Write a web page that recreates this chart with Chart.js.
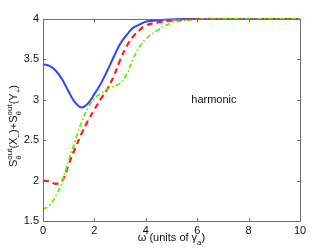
<!DOCTYPE html>
<html>
<head>
<meta charset="utf-8">
<script src="https://cdn.jsdelivr.net/npm/chart.js@4/dist/chart.umd.min.js"></script>
<style>
  html, body { margin: 0; padding: 0; background: #fff; }
  #wrap { width: 332px; height: 250px; }
</style>
</head>
<body>
<div id="wrap"><canvas id="c" width="332" height="250"></canvas></div>
<script>
// omega grid (units of gamma_a)
const omega = [0, 0.25, 0.5, 0.75, 1, 1.25, 1.5, 1.75, 2, 2.25, 2.5, 2.75, 3, 3.25, 3.5, 3.75, 4, 4.5, 5, 5.5, 6, 7, 8, 9, 10]

// solid blue
const blueVals = [3.44, 3.42, 3.36, 3.25, 3.10, 2.965, 2.905, 2.955, 3.07, 3.20, 3.36, 3.53, 3.69, 3.80, 3.89, 3.93, 3.965, 3.985, 3.995, 4, 4, 4, 4, 4, 4]
// dashed red
const redVals = [2.00, 1.99, 1.96, 2.00, 2.20, 2.40, 2.58, 2.74, 2.88, 3.01, 3.13, 3.29, 3.49, 3.66, 3.78, 3.86, 3.92, 3.96, 3.98, 3.99, 4, 4, 4, 4, 4]
// dash-dot green
const greenVals = [1.645, 1.69, 1.81, 1.99, 2.25, 2.49, 2.72, 2.90, 3.01, 3.08, 3.13, 3.17, 3.20, 3.31, 3.50, 3.65, 3.75, 3.87, 3.95, 3.98, 3.995, 4, 4, 4, 4]

const xTicks = [0, 2, 4, 6, 8, 10]
const yTicks = [1.5, 2, 2.5, 3, 3.5, 4]
const annotation = { text: 'harmonic', x: 6.65, y: 3.0 }

const FONT = '"Liberation Sans", Arial, Helvetica, sans-serif'

const pts = vals => omega.map((x, i) => ({ x: x, y: vals[i] }))

// draw text with sub/superscripts; parts: {t} | {sup, sub} | {sub} | {sup}
function richWidth(ctx, parts){
  let w = 0
  parts.forEach(p => {
    if(p.t){ ctx.font = '11px ' + FONT; w += ctx.measureText(p.t).width }
    else {
      ctx.font = '8px ' + FONT
      w += Math.max(p.sup ? ctx.measureText(p.sup).width : 0, p.sub ? ctx.measureText(p.sub).width : 0)
    }
  })
  return w
}
function drawRich(ctx, parts, x, y){
  ctx.textAlign = 'left'
  ctx.textBaseline = 'alphabetic'
  let cx = x
  parts.forEach(p => {
    if(p.t){
      ctx.font = '11px ' + FONT
      ctx.fillText(p.t, cx, y)
      cx += ctx.measureText(p.t).width
    } else {
      ctx.font = '8px ' + FONT
      let w = 0
      if(p.sup){ ctx.fillText(p.sup, cx, y - 5); w = Math.max(w, ctx.measureText(p.sup).width) }
      if(p.sub){ ctx.fillText(p.sub, cx, y + 3.5); w = Math.max(w, ctx.measureText(p.sub).width) }
      cx += w
    }
  })
}

const yLabel = [
  { t: 'S' }, { sup: 'out', sub: 'θ' }, { t: '(X' }, { sub: '−' }, { t: ')+S' },
  { sup: 'out', sub: 'θ' }, { t: '(Y' }, { sub: '+' }, { t: ')' }
]
const xLabel = [ { t: 'ω (units of γ' }, { sub: 'a' }, { t: ')' } ]

const frame = {
  id: 'frame',
  afterDraw(chart){
    const ctx = chart.ctx
    const a = chart.chartArea
    const xs = chart.scales.x, ys = chart.scales.y
    ctx.save()
    ctx.strokeStyle = '#6e6e6e'
    ctx.lineWidth = 1
    ctx.strokeRect(Math.round(a.left) + 0.5, Math.round(a.top) + 0.5, Math.round(a.right - a.left), Math.round(a.bottom - a.top))
    // inward ticks on all sides
    ctx.beginPath()
    xTicks.forEach(v => {
      const px = Math.round(xs.getPixelForValue(v)) + 0.5
      ctx.moveTo(px, a.bottom); ctx.lineTo(px, a.bottom - 3)
      ctx.moveTo(px, a.top); ctx.lineTo(px, a.top + 3)
    })
    yTicks.forEach(v => {
      const py = Math.round(ys.getPixelForValue(v)) + 0.5
      ctx.moveTo(a.left, py); ctx.lineTo(a.left + 3, py)
      ctx.moveTo(a.right, py); ctx.lineTo(a.right - 3, py)
    })
    ctx.stroke()

    ctx.fillStyle = '#111'
    // annotation
    ctx.font = '11px ' + FONT
    ctx.textAlign = 'center'
    ctx.textBaseline = 'middle'
    ctx.fillText(annotation.text, xs.getPixelForValue(annotation.x), ys.getPixelForValue(annotation.y))

    // x label
    const wx = richWidth(ctx, xLabel)
    drawRich(ctx, xLabel, (a.left + a.right) / 2 - wx / 2, 241)

    // y label (rotated)
    const wy = richWidth(ctx, yLabel)
    ctx.translate(17, 126)
    ctx.rotate(-Math.PI / 2)
    drawRich(ctx, yLabel, -wy / 2, 0)
    ctx.restore()
  }
}

new Chart(document.getElementById('c'), {
  type: 'line',
  data: {
    datasets: [
      { data: pts(blueVals), borderColor: '#2a45ff', borderWidth: 2, order: 2 },
      { data: pts(redVals), borderColor: '#ff1c1c', borderWidth: 2.2, borderDash: [6, 4], order: 1 },
      { data: pts(greenVals), borderColor: '#66ee00', borderWidth: 1.8, borderDash: [5, 2.5, 1.5, 2.5], order: 0 }
    ]
  },
  options: {
    responsive: false,
    animation: false,
    layout: { padding: { top: 19, right: 32, left: 0, bottom: 0 } },
    elements: {
      point: { radius: 0 },
      line: { tension: 0.4, fill: false }
    },
    datasets: { line: { clip: false } },
    plugins: { legend: { display: false }, tooltip: { enabled: false } },
    scales: {
      x: {
        type: 'linear', min: 0, max: 10,
        afterFit: s => { s.height = 29 },
        afterBuildTicks: s => { s.ticks = xTicks.map(v => ({ value: v })) },
        grid: { display: false, drawTicks: false },
        border: { display: false },
        ticks: { padding: 3, color: '#111', font: { family: FONT, size: 11 }, maxRotation: 0, callback: v => String(v) }
      },
      y: {
        type: 'linear', min: 1.5, max: 4,
        afterFit: s => { s.width = 43 },
        afterBuildTicks: s => { s.ticks = yTicks.map(v => ({ value: v })) },
        grid: { display: false, drawTicks: false },
        border: { display: false },
        ticks: { padding: 4, color: '#111', font: { family: FONT, size: 11 }, callback: v => String(v) }
      }
    }
  },
  plugins: [frame]
})
</script>
</body>
</html>
